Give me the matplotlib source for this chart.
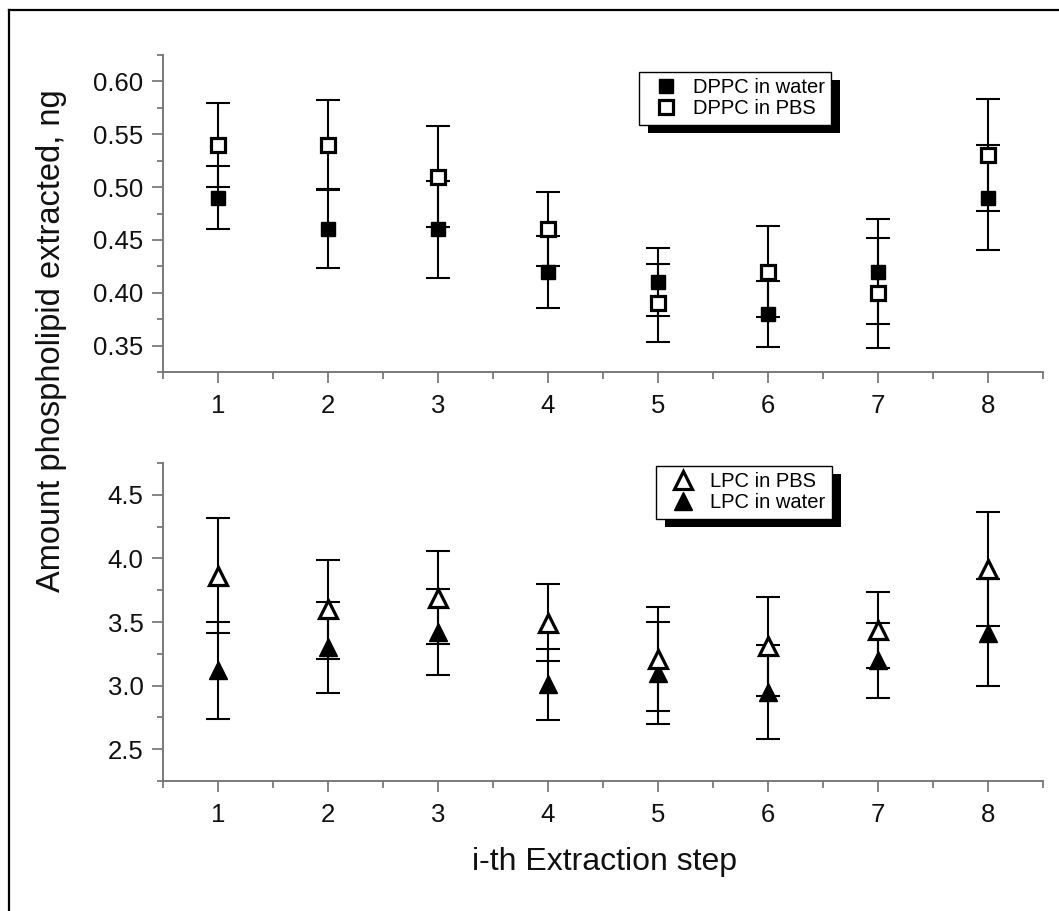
import matplotlib
matplotlib.use("Agg")
import matplotlib.pyplot as plt
from matplotlib.ticker import MultipleLocator, FormatStrFormatter
from matplotlib.patches import Rectangle
from matplotlib.lines import Line2D
from matplotlib.transforms import IdentityTransform

plt.rcParams['font.family'] = ['Liberation Sans', 'DejaVu Sans']

steps = [1, 2, 3, 4, 5, 6, 7, 8]

dppc_water = [0.49, 0.46, 0.46, 0.42, 0.41, 0.38, 0.42, 0.49]
dppc_water_err = [0.030, 0.037, 0.046, 0.034, 0.032, 0.031, 0.050, 0.050]
dppc_pbs = [0.54, 0.54, 0.51, 0.46, 0.39, 0.42, 0.40, 0.53]
dppc_pbs_err = [0.040, 0.042, 0.048, 0.035, 0.037, 0.043, 0.052, 0.053]

lpc_pbs = [3.865, 3.60, 3.69, 3.495, 3.21, 3.31, 3.435, 3.916]
lpc_pbs_err = [0.455, 0.39, 0.365, 0.305, 0.41, 0.39, 0.30, 0.45]
lpc_water = [3.12, 3.30, 3.42, 3.01, 3.10, 2.95, 3.20, 3.416]
lpc_water_err = [0.38, 0.36, 0.34, 0.28, 0.40, 0.37, 0.295, 0.42]

W, H = 1059, 911
fig = plt.figure(figsize=(W / 100, H / 100), dpi=100)
fig.patch.set_facecolor('white')

def axes_px(x0, y_top, x1, y_bot):
    return [x0 / W, 1 - y_bot / H, (x1 - x0) / W, (y_bot - y_top) / H]

ax1 = fig.add_axes(axes_px(163, 55, 1043, 372))
ax2 = fig.add_axes(axes_px(163, 463, 1043, 781))

axis_col = '#707070'

def style(ax, ylim, major, minor, fmt):
    ax.set_facecolor('none')
    ax.set_xlim(0.5, 8.5)
    ax.set_ylim(*ylim)
    for s in ['top', 'right']:
        ax.spines[s].set_visible(False)
    for s in ['left', 'bottom']:
        ax.spines[s].set_color(axis_col)
        ax.spines[s].set_linewidth(1.3)
    ax.xaxis.set_major_locator(MultipleLocator(1))
    ax.xaxis.set_minor_locator(MultipleLocator(0.5))
    ax.yaxis.set_major_locator(MultipleLocator(major))
    ax.yaxis.set_minor_locator(MultipleLocator(minor))
    ax.yaxis.set_major_formatter(FormatStrFormatter(fmt))
    ax.tick_params(axis='x', which='major', direction='out', length=8, width=1.2,
                   color=axis_col, labelsize=18.5, pad=8, labelcolor='#111111')
    ax.tick_params(axis='x', which='minor', direction='out', length=5, width=1.2,
                   color=axis_col)
    ax.tick_params(axis='y', which='major', direction='out', length=8, width=1.2,
                   color=axis_col, labelsize=18.5, pad=6, labelcolor='#111111')
    ax.tick_params(axis='y', which='minor', direction='out', length=4.5, width=1.2,
                   color=axis_col)

style(ax1, (0.325, 0.625), 0.05, 0.025, '%.2f')
style(ax2, (2.25, 4.75), 0.5, 0.25, '%.1f')

eb_kw = dict(fmt='none', ecolor='black', elinewidth=1.5, capsize=8.5, capthick=1.5)

# top panel
ax1.errorbar(steps, dppc_water, yerr=dppc_water_err, zorder=2, **eb_kw)
ax1.errorbar(steps, dppc_pbs, yerr=dppc_pbs_err, zorder=2, **eb_kw)
h1, = ax1.plot(steps, dppc_water, linestyle='none', marker='s', markersize=10,
               markerfacecolor='black', markeredgecolor='black', zorder=4,
               label='DPPC in water')
h2, = ax1.plot(steps, dppc_pbs, linestyle='none', marker='s', markersize=9.5,
               markerfacecolor='white', markeredgecolor='black', markeredgewidth=2.3,
               zorder=5, label='DPPC in PBS')

# bottom panel
ax2.errorbar(steps, lpc_water, yerr=lpc_water_err, zorder=2, **eb_kw)
ax2.errorbar(steps, lpc_pbs, yerr=lpc_pbs_err, zorder=2, **eb_kw)
h4, = ax2.plot(steps, lpc_water, linestyle='none', marker='^', markersize=13.5,
               markerfacecolor='black', markeredgecolor='black', zorder=4,
               label='LPC in water')
h3, = ax2.plot(steps, lpc_pbs, linestyle='none', marker='^', markersize=12.5,
               markerfacecolor='white', markeredgecolor='black', markeredgewidth=2.3,
               zorder=5, label='LPC in PBS')

leg_kw = dict(fontsize=14.5, frameon=True, fancybox=False, framealpha=1,
              edgecolor='black', borderpad=0.3, labelspacing=0.12,
              handlelength=2.1, handletextpad=0.3, borderaxespad=0, loc='upper left')

leg1 = ax1.legend(handles=[h1, h2], bbox_to_anchor=(639 / W, 1 - 72 / H),
                  bbox_transform=fig.transFigure, **leg_kw)
leg2 = ax2.legend(handles=[h3, h4], bbox_to_anchor=(656 / W, 1 - 466 / H),
                  bbox_transform=fig.transFigure, **leg_kw)
for leg in (leg1, leg2):
    leg.get_frame().set_linewidth(1.0)
    leg.set_zorder(10)

fig.canvas.draw()
for ax, leg in ((ax1, leg1), (ax2, leg2)):
    bb = leg.get_window_extent()
    sh = Rectangle((bb.x0 + 9, bb.y0 - 8), bb.width, bb.height,
                   transform=IdentityTransform(), facecolor='black',
                   edgecolor='none', zorder=9, clip_on=False)
    ax.add_patch(sh)

fig.text(52 / W, 1 - 341 / H, 'Amount phospholipid extracted, ng', rotation=90,
         ha='center', va='center', fontsize=23.5, color='#111111')
fig.text(604 / W, 1 - 862 / H, 'i-th Extraction step', ha='center', va='center',
         fontsize=23, color='#111111')

# outer frame (left and top edges)
fig.add_artist(Line2D([9 / W, 9 / W], [0, 1 - 10 / H], color='black', lw=1.6))
fig.add_artist(Line2D([9 / W, 1], [1 - 10 / H, 1 - 10 / H], color='black', lw=1.6))

fig.savefig('out.png', dpi=100, facecolor='white')
